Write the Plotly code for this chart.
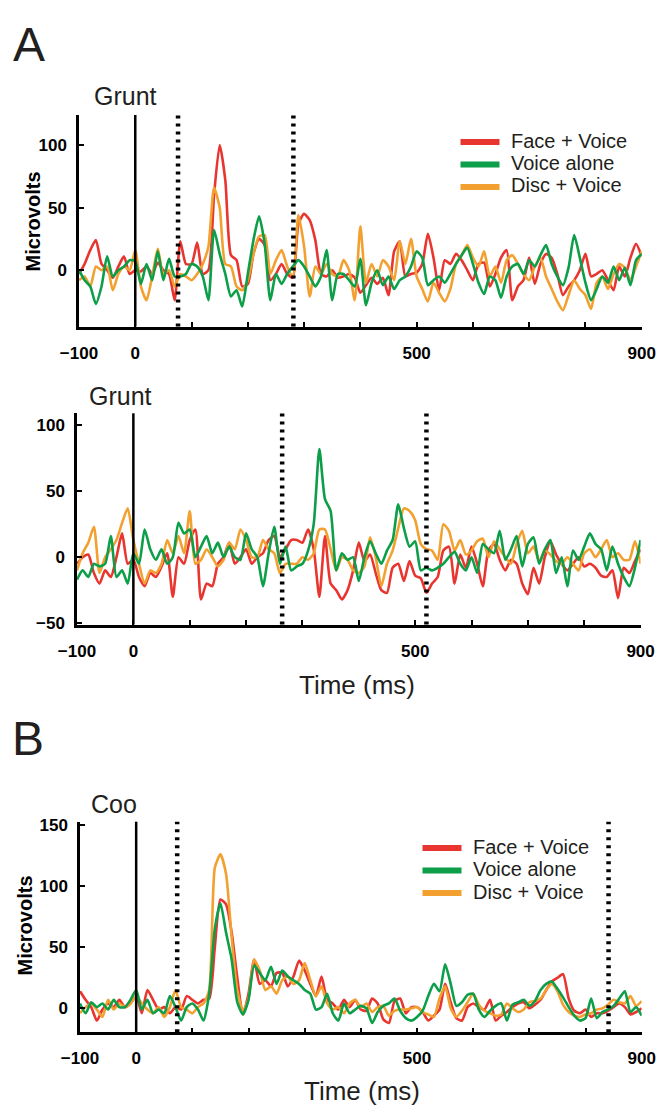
import plotly.graph_objects as go

# ---------------- data ----------------
time_ms = list(range(-100, 901, 10))

# Panel A (top) - Grunt
grunt1_face = [-3, 5, 16, 24, 5, 0, -6, 3, 11, -3, 0,
               -1, 3, -3, 6, 0, -3, -24, 23, 5, 5,
               22, -3, 0, 60, 100, 72, 12, 8, -13, -11,
               13, 25, 20, -8, -3, 5, -3, -6, 37, 45,
               40, 24, -3, -5, 0, -6, -5, -3, -6, -18,
               -12, -6, -11, -6, -20, 15, 23, -5, -3, -2,
               5, 29, 10, -16, 8, 5, 13, 8, 0, -8,
               5, 6, -13, -3, 10, 16, -24, -13, -8, 10,
               -11, 5, 13, 10, -3, -20, -13, -8, 0, 13,
               -5, -3, 0, -8, -16, 3, -5, 10, 21, 11]
grunt1_voice = [0, -8, -13, -27, -13, 11, -5, 0, 3, 8, 7,
                -11, 5, -8, 15, -8, 9, -5, -5, -3, 5,
                3, -5, -24, 32, 13, -3, -21, -16, -29, -3,
                24, 43, 21, -24, -3, -11, -3, 3, 8, 3,
                -5, -13, -5, 16, -24, -3, -3, -8, -13, 9,
                -28, -10, 0, -12, -5, -15, -8, -5, 3, 15,
                10, -12, -8, -5, -10, -3, 5, 12, 18, 5,
                -10, -19, -5, -8, -22, -5, 3, 5, -3, 8,
                3, 12, 20, 5, -5, -12, 2, 28, 10, -10,
                -24, -15, -5, -10, 3, -8, 2, -12, 8, 13]
grunt1_disc = [-8, -5, -13, 3, 0, 3, -16, -3, 3, 0, 16,
               -13, -24, -5, 17, -3, 0, -13, -3, -5, -8,
               -3, 5, 19, 66, 50, 5, 3, -13, -16, -8,
               13, 27, 28, -3, 8, 16, 3, -5, 44, 19,
               -21, 3, -3, 5, -3, -5, 8, 0, -24, 35,
               -10, 5, -5, 8, 3, -8, 23, 5, 25, -5,
               -15, -25, -10, -18, -25, -15, 5, 12, 20, 10,
               3, 15, -5, 3, -10, 8, 12, 5, -3, -8,
               3, 10, -5, -15, -25, -32, -20, -8, -15, -20,
               -31, -10, -5, -15, -3, 5, 2, -8, 3, 15]

# Panel A (bottom) - Grunt
grunt2_face = [-5, 0, 2, -12, -20, -10, -15, 0, 18, -5, -2,
               -15, -22, -12, -15, -7, 3, -30, 0, -5, 13,
               21, -32, -20, -22, -5, 0, 11, -5, 0, 6,
               -5, 0, 3, 13, 16, 0, 6, 13, 13, 11,
               21, 6, -30, 16, -20, -25, -32, -25, -10, 11,
               -3, 2, -12, -25, -27, -8, -5, -18, -3, -14,
               -16, -27, -20, -15, 5, 8, -20, 2, -8, 8,
               -5, -22, 5, 10, -2, -10, -2, -5, -20, -28,
               -8, -20, 0, 12, 2, -5, -10, -5, 0, -7,
               -5, -8, -14, -15, -10, -31, -8, -12, -3, 6]
grunt2_voice = [-17, -10, -15, -5, -7, -5, 16, -15, -10, -20, 3,
                -5, 21, 6, -2, 6, -5, 0, 26, 18, 21,
                0, 8, 16, 3, 11, 0, 8, 0, -2, 18,
                6, 0, -22, 3, 23, -5, 8, -10, -7, -5,
                5, 25, 82, 44, 35, -10, 3, -2, 0, -18,
                0, 12, 3, -5, 5, 13, 40, 22, 8, 12,
                -10, -8, -10, -8, -5, 0, 4, -5, -10, 0,
                -12, 10, 6, 3, 20, -2, 6, 16, -7, 10,
                15, -5, 6, 13, -12, 0, -22, 5, -2, 8,
                18, 10, 6, -10, 8, -5, -15, -22, -8, 13]
grunt2_disc = [-10, 3, 11, 23, -12, 0, 6, 13, 26, 37, 13,
               -5, -20, -10, -12, -5, 13, 3, 16, 3, 35,
               -5, -2, 6, 0, -7, -2, 11, 6, 21, 13,
               0, 0, 13, 6, 3, -12, -5, -5, -5, 0,
               -2, 3, 21, 21, 6, -10, 0, -2, -10, -12,
               -7, 15, 0, -22, -5, 5, 22, 37, 35, 28,
               10, 6, 5, -2, 25, 20, 5, 13, 2, 5,
               12, 14, 0, 12, 6, 0, -5, 10, 20, 3,
               8, -3, 5, 2, -3, -5, 0, -5, -10, 3,
               6, 0, 6, 13, 0, 3, -2, -2, 12, -5]

# Panel B - Coo
coo_face = [14, 7, 1, -10, -1, 4, 1, 7, 1, 4, 10,
            -4, 15, 7, -1, 1, -4, 1, -1, 10, 7,
            4, 7, 8, 50, 89, 85, 62, 25, -5, 12,
            40, 20, 23, 18, 29, 29, 18, 26, 39, 31,
            20, 10, 26, 7, 4, -1, 7, 1, 7, -1,
            -2, 8, 4, -9, -12, 6, 8, -4, 1, 1,
            -3, -10, -6, -1, 20, 5, -8, -10, 1, 4,
            1, -1, 7, -10, -6, -3, 1, 4, 5, 0,
            3, 7, 15, 22, 25, 28, 8, -2, -4, -1,
            -7, -4, -4, -2, 1, 4, 1, -5, -3, 0]
coo_voice = [4, -4, 5, 1, 4, -1, 7, 1, 1, 7, 15,
             -1, 7, -4, -1, -4, 10, 1, -10, 1, 4,
             -1, -10, 12, 65, 86, 62, 40, 5, -5, 7,
             35, 29, 23, 34, 20, 31, 26, 23, 20, 15,
             12, -1, 1, 12, -4, -10, 4, -4, -1, 2,
             0, -12, -3, 2, 4, 8, -2, -8, -10, -7,
             -2, 10, 20, 14, 36, 20, 2, 5, 11, 12,
             -1, -7, -2, 2, 4, -10, 3, 5, 7, 2,
             6, 15, 20, 22, 16, 9, 1, -6, -10, -8,
             8, -8, -3, -1, 2, 8, 14, -3, 1, -6]
coo_disc = [-4, 1, 4, -1, -7, 7, -1, 4, 1, 4, 10,
            4, -1, -4, 1, -7, 1, 15, 1, -1, -4,
            1, 4, 15, 115, 126, 110, 58, 15, -2, 8,
            40, 31, 15, 18, 12, 23, 26, 20, 23, 37,
            23, 10, 18, 4, -1, 1, -4, 4, 7, 1,
            4, -3, 1, 2, -6, -2, -1, -1, 0, 1,
            -3, -5, -7, 8, 18, 0, -7, -2, 5, 12,
            3, -2, -4, -6, -5, 4, 0, -3, -1, 5,
            6, 8, 15, 20, 14, 3, -3, -6, -7, -5,
            -4, -1, 0, 3, 7, 5, 4, 10, 2, 6]

series_names = ["Face + Voice", "Voice alone", "Disc + Voice"]
series_colors = ["#E8352F", "#0C9E48", "#F2A131"]

x_tick_vals = list(range(-100, 901, 100))
x_tick_text = ["\u2212100", "0", "", "", "", "", "500", "", "", "", "900"]

# event markers (ms)
grunt1_markers = [76, 281]
grunt2_markers = [264, 520]
coo_markers = [73, 841]

# ---------------- layout helpers ----------------
W, H = 658, 1105


def px(xp):
    return xp / W


def py(yp):
    return 1 - yp / H


TXT = "#231F20"
FONT = "Liberation Sans, Arial, sans-serif"

fig = go.Figure()

panels = [
    dict(data=[grunt1_face, grunt1_voice, grunt1_disc], ax="", markers=grunt1_markers),
    dict(data=[grunt2_face, grunt2_voice, grunt2_disc], ax="2", markers=grunt2_markers),
    dict(data=[coo_face, coo_voice, coo_disc], ax="3", markers=coo_markers),
]

draw_order = [0, 2, 1]  # red, orange, green on top
for p in panels:
    for i in draw_order:
        fig.add_trace(go.Scatter(
            x=time_ms, y=p["data"][i], mode="lines", name=series_names[i],
            line=dict(color=series_colors[i], width=2.6, shape="spline", smoothing=0.6),
            xaxis="x" + p["ax"], yaxis="y" + p["ax"], showlegend=False,
            hoverinfo="skip"))

axis_common = dict(showline=True, linecolor="black", linewidth=2.5,
                   ticks="inside", ticklen=5, tickwidth=2, tickcolor="black",
                   showgrid=False, zeroline=False, automargin=False,
                   tickfont=dict(family=FONT, size=17, color="black", weight="bold"))

xdomains = [[px(79), px(641.7)], [px(77), px(640.6)], [px(80), px(641.7)]]
ydomains = [[py(326.5), py(115)], [py(624.5), py(413.3)], [py(1032.3), py(821.7)]]
yranges = [[-45, 124], [-51, 109], [-19.6, 152.7]]
ytickvals = [[0, 50, 100], [-50, 0, 50, 100], [0, 50, 100, 150]]

layout_axes = {}
for k, p in enumerate(panels):
    sfx = p["ax"]
    layout_axes["xaxis" + sfx] = dict(axis_common, domain=xdomains[k], range=[-100, 900],
                                      tickvals=x_tick_vals, ticktext=x_tick_text,
                                      anchor="y" + sfx, ticklabelstandoff=9)
    ytext = [("\u2212" + str(-v)) if v < 0 else str(v) for v in ytickvals[k]]
    layout_axes["yaxis" + sfx] = dict(axis_common, domain=ydomains[k], range=yranges[k],
                                      tickvals=ytickvals[k], ticktext=ytext,
                                      anchor="x" + sfx, ticklabelstandoff=6)

shapes = []
for p in panels:
    sfx = p["ax"]
    shapes.append(dict(type="line", xref="x" + sfx, yref="y" + sfx + " domain",
                       x0=0, x1=0, y0=0, y1=1, line=dict(color="black", width=2.5)))
    for m in p["markers"]:
        shapes.append(dict(type="line", xref="x" + sfx, yref="y" + sfx + " domain",
                           x0=m, x1=m, y0=0, y1=1,
                           line=dict(color="black", width=4.5, dash="3px,5px")))

annotations = []


def add_text(text, xp, yp, size, bold=False, angle=0, xanchor="center"):
    annotations.append(dict(text=text, x=px(xp), y=py(yp), xref="paper", yref="paper",
                            showarrow=False, xanchor=xanchor, yanchor="middle",
                            textangle=angle,
                            font=dict(family=FONT, size=size,
                                      color="black" if bold else TXT,
                                      weight="bold" if bold else "normal")))


add_text("A", 29, 45, 48)
add_text("B", 28, 738, 48)
add_text("Grunt", 125.5, 96, 25)
add_text("Grunt", 120, 396, 25)
add_text("Coo", 113.5, 804, 25)
add_text("Microvolts", 32.5, 222, 20, bold=True, angle=-90)
add_text("Microvolts", 24.5, 926, 20, bold=True, angle=-90)
add_text("Time (ms)", 356.7, 685, 26)
add_text("Time (ms)", 361.7, 1091, 26)

# legends
legend_specs = [
    dict(x0=460.5, x1=499.5, tx=509.3, ys=[142, 164.5, 187]),
    dict(x0=422.5, x1=461.5, tx=471, ys=[848, 870.5, 893]),
]
for spec in legend_specs:
    for i in range(3):
        shapes.append(dict(type="line", xref="paper", yref="paper",
                           x0=px(spec["x0"]), x1=px(spec["x1"]),
                           y0=py(spec["ys"][i]), y1=py(spec["ys"][i]),
                           line=dict(color=series_colors[i], width=6)))
        add_text(series_names[i], spec["tx"], spec["ys"][i] - 1.5, 20, xanchor="left")

fig.update_layout(width=W, height=H, autosize=False, showlegend=False,
                  margin=dict(l=0, r=0, t=0, b=0, pad=0),
                  paper_bgcolor="white", plot_bgcolor="white",
                  shapes=shapes, annotations=annotations, **layout_axes)

fig.write_html("out.html", config={"displayModeBar": False},
               post_script="document.body.style.margin='0';")
